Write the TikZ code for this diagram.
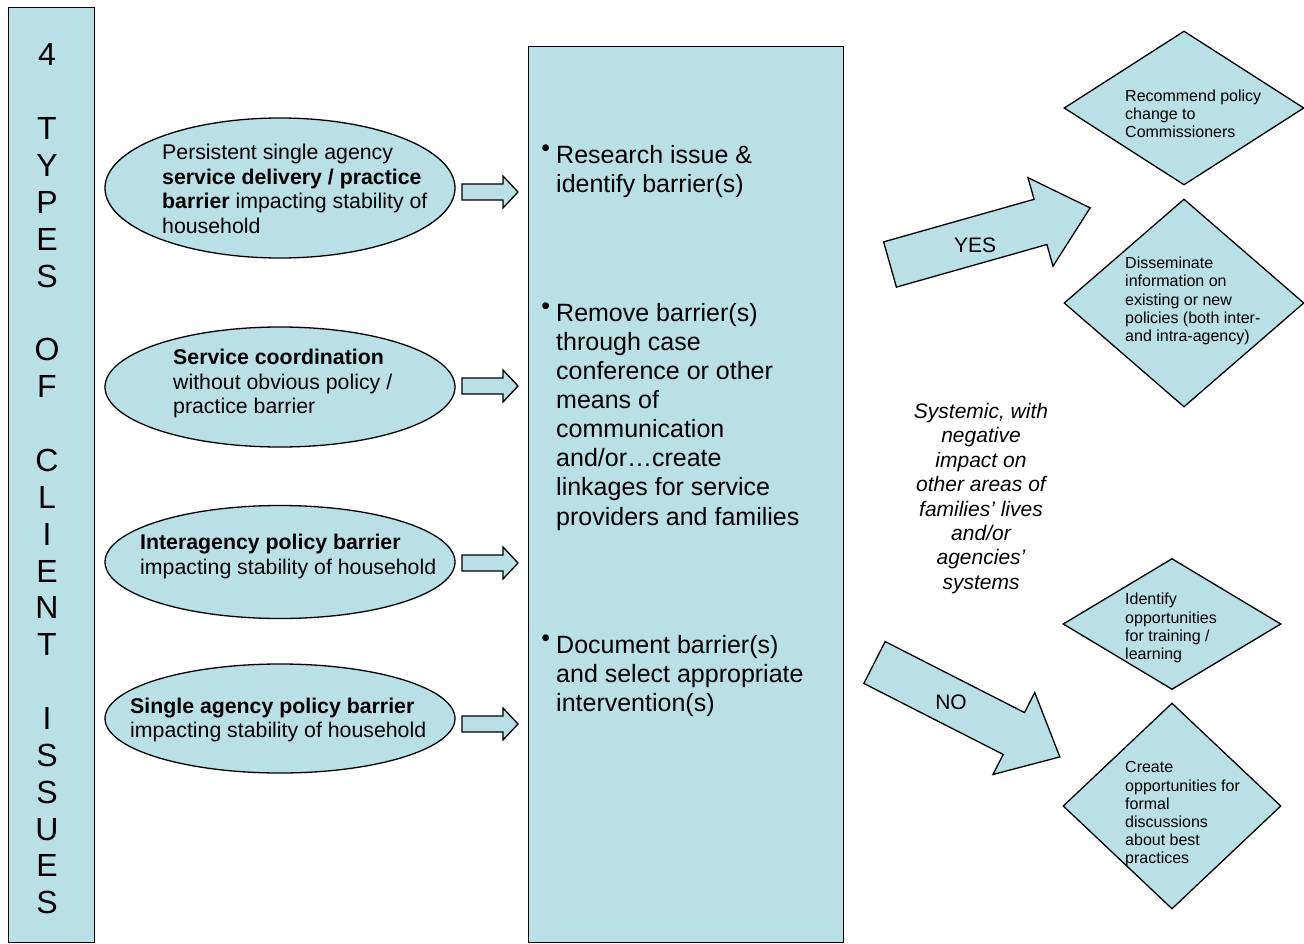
\documentclass[tikz,border=0pt]{standalone}
\usepackage{fontspec}
\setmainfont{Liberation Sans}
\usetikzlibrary{shapes.geometric}
\definecolor{paleblue}{RGB}{185,224,228}
\newcommand{\stepdot}{\llap{\smash{\raisebox{7pt}{\textbullet}}\hspace{6pt}}}

\begin{document}
\begin{tikzpicture}[x=1pt,y=-1pt,
  panel/.style={draw=black,fill=paleblue,line width=1.3pt},
  issue/.style={panel,ellipse,inner sep=0pt,minimum width=350pt},
  issuetext/.style={anchor=west,align=left,inner sep=0pt,font=\fontsize{21.3}{24.5}\selectfont},
  steptext/.style={anchor=north west,align=left,inner sep=0pt,font=\fontsize{25}{29.1}\selectfont},
  pics/feedarrow/.style={code={
    \draw[panel] (0,-8) -- (41,-8) -- (41,-16) -- (56,0) -- (41,16) -- (41,8) -- (0,8) -- cycle;}},
  pics/choicearrow/.style={code={
    \draw[panel] (0,-23.5) -- (156.4,-23.5) -- (156.4,-46) -- (208,0) -- (156.4,46) -- (156.4,23.5) -- (0,23.5) -- cycle;}},
  choicetext/.style={inner sep=0pt,font=\fontsize{21}{24}\selectfont},
  outcome/.style={panel,diamond,inner sep=0pt},
  outcometext/.style={anchor=west,align=left,inner sep=0pt,font=\fontsize{16}{18.2}\selectfont},
  ]
  \useasboundingbox (0,0) rectangle (1304,944);
  \node[panel,anchor=north west,minimum width=86pt,minimum height=935pt,inner sep=0pt] (types) at (8,7) {};
  \node[align=center,inner sep=0pt,font=\fontsize{32}{36.87}\selectfont] (typestext) at (47,479) {4\\~\\T\\Y\\P\\E\\S\\~\\O\\F\\~\\C\\L\\I\\E\\N\\T\\~\\I\\S\\S\\U\\E\\S};

  \node[issue,minimum height=140pt] (single) at (280,188) {};
  \node[issuetext] (singletext) at (162,189) {Persistent single agency\\\textbf{service delivery / practice}\\\textbf{barrier} impacting stability of\\household};
  \node[issue,minimum height=120pt] (coord) at (280,387) {};
  \node[issuetext] (coordtext) at (173,383.5) {\textbf{Service coordination}\\without obvious policy /\\practice barrier};
  \node[issue,minimum height=113pt] (inter) at (280,562) {};
  \node[issuetext] (intertext) at (140,556.5) {\textbf{Interagency policy barrier}\\impacting stability of household};
  \node[issue,minimum height=109pt] (agency) at (280,718.5) {};
  \node[issuetext] (agencytext) at (130,720) {\textbf{Single agency policy barrier}\\impacting stability of household};

  \pic (feedA) at (462,192) {feedarrow};
  \pic (feedB) at (462,386) {feedarrow};
  \pic (feedC) at (462,563) {feedarrow};
  \pic (feedD) at (462,724) {feedarrow};

  \node[panel,anchor=north west,minimum width=315pt,minimum height=896pt,inner sep=0pt] (steps) at (528,46) {};
  \node[steptext] (research) at (556,145.5) {\stepdot Research issue \&\\identify barrier(s)};
  \node[steptext] (remove) at (556,303) {\stepdot Remove barrier(s)\\through case\\conference or other\\means of\\communication\\and/or…create\\linkages for service\\providers and families};
  \node[steptext] (document) at (556,635) {\stepdot Document barrier(s)\\and select appropriate\\intervention(s)};

  \pic[rotate=15.8] (yes) at (890,264.5) {choicearrow};
  \node[choicetext] (yestext) at (975,245) {YES};
  \pic[rotate=-27] (no) at (874.5,662.5) {choicearrow};
  \node[choicetext] (notext) at (951,702) {NO};

  \node[align=center,inner sep=0pt,font=\fontsize{21}{24.4}\selectfont\itshape] (systemic) at (981,498.5) {Systemic, with\\negative\\impact on\\other areas of\\families’ lives\\and/or\\agencies’\\systems};

  \node[outcome,minimum width=240pt,minimum height=154pt] (policy) at (1184,108) {};
  \node[outcometext] (policytext) at (1125,114) {Recommend policy\\change to\\Commissioners};
  \node[outcome,minimum width=240pt,minimum height=208pt] (inform) at (1184,303) {};
  \node[outcometext] (informtext) at (1125,301) {Disseminate\\information on\\existing or new\\policies (both inter-\\and intra-agency)};
  \node[outcome,minimum width=218pt,minimum height=131pt] (training) at (1172,624) {};
  \node[outcometext] (trainingtext) at (1125,628) {Identify\\opportunities\\for training /\\learning};
  \node[outcome,minimum width=218pt,minimum height=206pt] (forums) at (1172,806) {};
  \node[outcometext] (forumstext) at (1125,814.5) {Create\\opportunities for\\formal\\discussions\\about best\\practices};
\end{tikzpicture}
\end{document}
